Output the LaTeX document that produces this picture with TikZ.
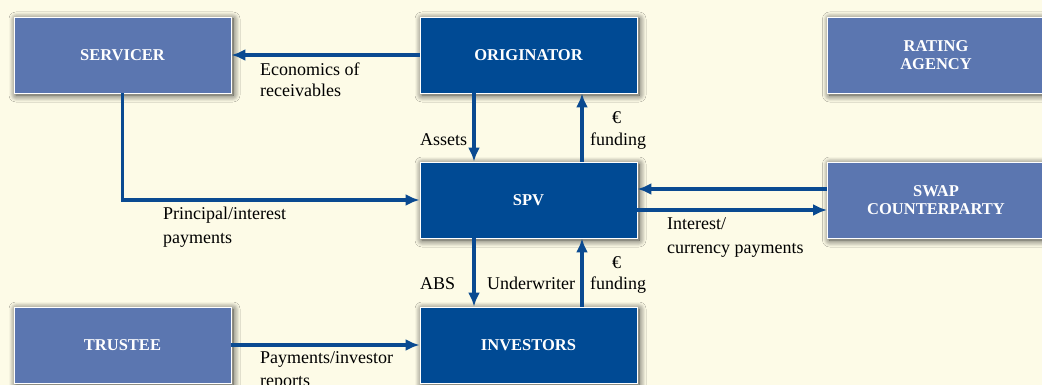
\documentclass[tikz,border=0pt]{standalone}
\usepackage{fontspec}
\setmainfont{Liberation Serif}
\usetikzlibrary{arrows.meta,shadows.blur}
\definecolor{bgcream}{RGB}{253,251,231}
\definecolor{darkbox}{RGB}{0,74,148}
\definecolor{lightbox}{RGB}{91,118,176}
\definecolor{arrowblue}{RGB}{10,74,145}
\tikzset{
  x=1pt, y=-1pt,
  boxbase/.style={draw=white, line width=0.8pt, minimum width=217pt, minimum height=76pt,
    inner sep=0pt, align=center, text=white,
    font=\fontsize{16.5}{18}\selectfont\bfseries,
    blur shadow={shadow xshift=2pt, shadow yshift=-2pt, shadow blur steps=10, shadow blur radius=7pt, shadow opacity=80}},
  darkstyle/.style={boxbase, fill=darkbox},
  lightstyle/.style={boxbase, fill=lightbox},
  flow/.style={draw=arrowblue, line width=3.2pt, -{Latex[length=14pt,width=12pt]}},
  lbl/.style={anchor=north west, inner sep=0pt, align=left, text=black,
    font=\fontsize{18}{21}\selectfont},
  lead/.style={font=\fontsize{18}{#1}\selectfont}
}
\begin{document}
\begin{tikzpicture}
\fill[bgcream] (0,0) rectangle (1042,385);
\useasboundingbox (0,0) rectangle (1042,385);
\clip (0,0) rectangle (1042,385);
% boxes
\node[lightstyle] (serv) at (122.5,55) {SERVICER};
\node[darkstyle] (orig) at (528.5,55) {ORIGINATOR};
\node[lightstyle] (rate) at (936,55) {RATING\\AGENCY};
\node[darkstyle] (spv) at (528.5,200) {SPV};
\node[lightstyle] (swap) at (936,200) {SWAP\\COUNTERPARTY};
\node[lightstyle] (trus) at (122.5,345) {TRUSTEE};
\node[darkstyle] (inv) at (528.5,345) {INVESTORS};
% connectors
\draw[flow] (orig.west) -- (serv.east);
\draw[flow] (serv.south) |- (spv.west);
\draw[flow] (orig.south -| 474,0) -- (spv.north -| 474,0);
\draw[flow] (spv.north -| 582,0) -- (orig.south -| 582,0);
\draw[flow] (swap.west |- 0,189) -- (spv.east |- 0,189);
\draw[flow] (spv.east |- 0,210) -- (swap.west |- 0,210);
\draw[flow] (spv.south -| 474,0) -- (inv.north -| 474,0);
\draw[flow] (inv.north -| 582,0) -- (spv.south -| 582,0);
\draw[flow] (trus.east) -- (inv.west);
% labels
\node[lbl] (l1) at (260,63) {Economics of\\receivables};
\node[lbl] (l2) at (420,133) {Assets};
\node[lbl, lead=22] (l3) at (590,111) {\hspace*{22pt}€\\funding};
\node[lbl, lead=24] (l4) at (163,207) {Principal/interest\\payments};
\node[lbl, lead=24] (l5) at (667,217) {Interest/\\currency payments};
\node[lbl] (l6) at (420,277) {ABS};
\node[lbl] (l7) at (487,277) {Underwriter};
\node[lbl] (l8) at (590,256) {\hspace*{22pt}€\\funding};
\node[lbl, lead=23] (l9) at (260,351) {Payments/investor\\reports};
\end{tikzpicture}
\end{document}
